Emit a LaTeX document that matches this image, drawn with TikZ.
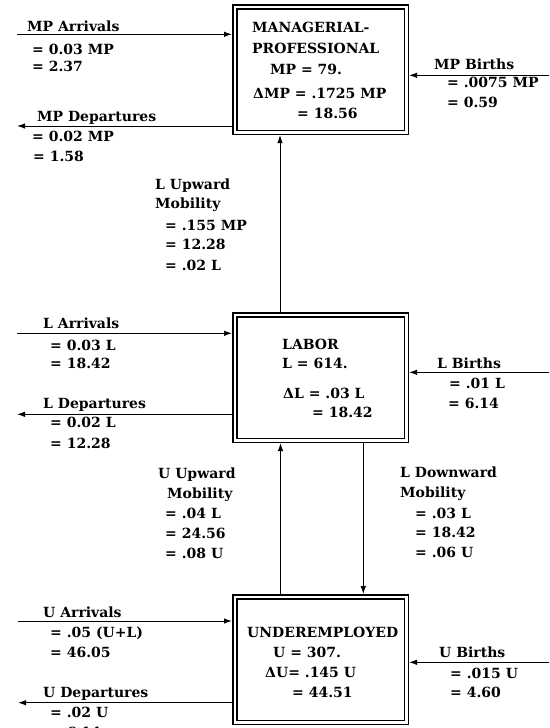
\documentclass[tikz,border=0pt]{standalone}
\usepackage{fontspec}
\setmainfont{DejaVu Serif}
\usetikzlibrary{arrows.meta}
\tikzset{
  box/.style={draw, double, line width=1.5pt, double distance=2.5pt,
    minimum width=171.5pt, minimum height=125.5pt, outer sep=2.75pt, inner sep=0pt},
  arr/.style={line width=1pt, -{Latex[length=8pt,width=5.5pt]}},
  lbl/.style={anchor=base west, inner sep=0pt, font=\bfseries\fontsize{14}{16}\selectfont},
}
\begin{document}
\begin{tikzpicture}[x=1pt,y=-1pt]
\useasboundingbox (0,0) rectangle (549,728);
\clip (0,0) rectangle (549,728);
% boxes
\node[box] (mp) at (320.5,69.5) {};
\node[box] (lab) at (320.5,377.5) {};
\node[box] (und) at (320.5,659.5) {};
% free ends
\coordinate (mpa) at (17,34.3);
\coordinate (mpd) at (17,126);
\coordinate (mpb) at (549,75.3);
\coordinate (la) at (17,333.3);
\coordinate (ld) at (17,414.3);
\coordinate (lb) at (549,372.3);
\coordinate (ua) at (18,621);
\coordinate (ud) at (18,702.7);
\coordinate (ub) at (549,662.3);
% connectors
\draw[arr] (mpa) -- (mpa -| mp.west);
\draw[arr] (mpd -| mp.west) -- (mpd);
\draw[arr] (mpb) -- (mpb -| mp.east);
\draw[arr] (la) -- (la -| lab.west);
\draw[arr] (ld -| lab.west) -- (ld);
\draw[arr] (lb) -- (lb -| lab.east);
\draw[arr] (ua) -- (ua -| und.west);
\draw[arr] (ud -| und.west) -- (ud);
\draw[arr] (ub) -- (ub -| und.east);
\draw[arr] ([xshift=-40.5pt]lab.north) -- ([xshift=-40.5pt]mp.south);
\draw[arr] ([xshift=-40pt]und.north) -- ([xshift=-40pt]lab.south);
\draw[arr] ([xshift=42.8pt]lab.south) -- ([xshift=42.8pt]und.north);
% MP texts
\node[lbl] (t1) at (27,31) {MP Arrivals};
\node[lbl] (t2) at (32,54) {= 0.03 MP};
\node[lbl] (t3) at (32,71) {= 2.37};
\node[lbl] (t4) at (37,121) {MP Departures};
\node[lbl] (t5) at (32,141) {= 0.02 MP};
\node[lbl] (t6) at (33,161) {= 1.58};
\node[lbl] (t7) at (252,32) {MANAGERIAL-};
\node[lbl] (t8) at (252,53) {PROFESSIONAL};
\node[lbl] (t9) at (270,74) {MP = 79.};
\node[lbl] (t10) at (253,98) {ΔMP = .1725 MP};
\node[lbl] (t11) at (297,118) {= 18.56};
\node[lbl] (t12) at (434,69) {MP Births};
\node[lbl] (t13) at (447,87) {= .0075 MP};
\node[lbl] (t14) at (447,107) {= 0.59};
% L upward
\node[lbl] (t15) at (155,189) {L Upward};
\node[lbl] (t16) at (155,208) {Mobility};
\node[lbl] (t17) at (165,230) {= .155 MP};
\node[lbl] (t18) at (165,249) {= 12.28};
\node[lbl] (t19) at (165,270) {= .02 L};
% LABOR
\node[lbl] (t20) at (43,328) {L Arrivals};
\node[lbl] (t21) at (50,350) {= 0.03 L};
\node[lbl] (t22) at (50,368) {= 18.42};
\node[lbl] (t23) at (43,408) {L Departures};
\node[lbl] (t24) at (50,427) {= 0.02 L};
\node[lbl] (t25) at (50,448) {= 12.28};
\node[lbl] (t26) at (282,349) {LABOR};
\node[lbl] (t27) at (282,368) {L = 614.};
\node[lbl] (t28) at (283,398) {ΔL = .03 L};
\node[lbl] (t29) at (312,417) {= 18.42};
\node[lbl] (t30) at (437,368) {L Births};
\node[lbl] (t31) at (449,388) {= .01 L};
\node[lbl] (t32) at (448,408) {= 6.14};
% U upward
\node[lbl] (t33) at (158,478) {U Upward};
\node[lbl] (t34) at (167,498) {Mobility};
\node[lbl] (t35) at (165,518) {= .04 L};
\node[lbl] (t36) at (165,538) {= 24.56};
\node[lbl] (t37) at (165,558) {= .08 U};
% L downward
\node[lbl] (t38) at (400,477) {L Downward};
\node[lbl] (t39) at (400,497) {Mobility};
\node[lbl] (t40) at (415,518) {= .03 L};
\node[lbl] (t41) at (415,537) {= 18.42};
\node[lbl] (t42) at (415,557) {= .06 U};
% U
\node[lbl] (t43) at (43,617) {U Arrivals};
\node[lbl] (t44) at (50,637) {= .05 (U+L)};
\node[lbl] (t45) at (50,657) {= 46.05};
\node[lbl] (t46) at (43,697) {U Departures};
\node[lbl] (t47) at (50,717) {= .02 U};
\node[lbl] (t48) at (50,737) {= 6.14};
\node[lbl] (t49) at (247,637) {UNDEREMPLOYED};
\node[lbl] (t50) at (273,657) {U = 307.};
\node[lbl] (t51) at (265,677) {ΔU= .145 U};
\node[lbl] (t52) at (292,697) {= 44.51};
\node[lbl] (t53) at (439,657) {U Births};
\node[lbl] (t54) at (450,678) {= .015 U};
\node[lbl] (t55) at (450,697) {= 4.60};
\end{tikzpicture}
\end{document}
